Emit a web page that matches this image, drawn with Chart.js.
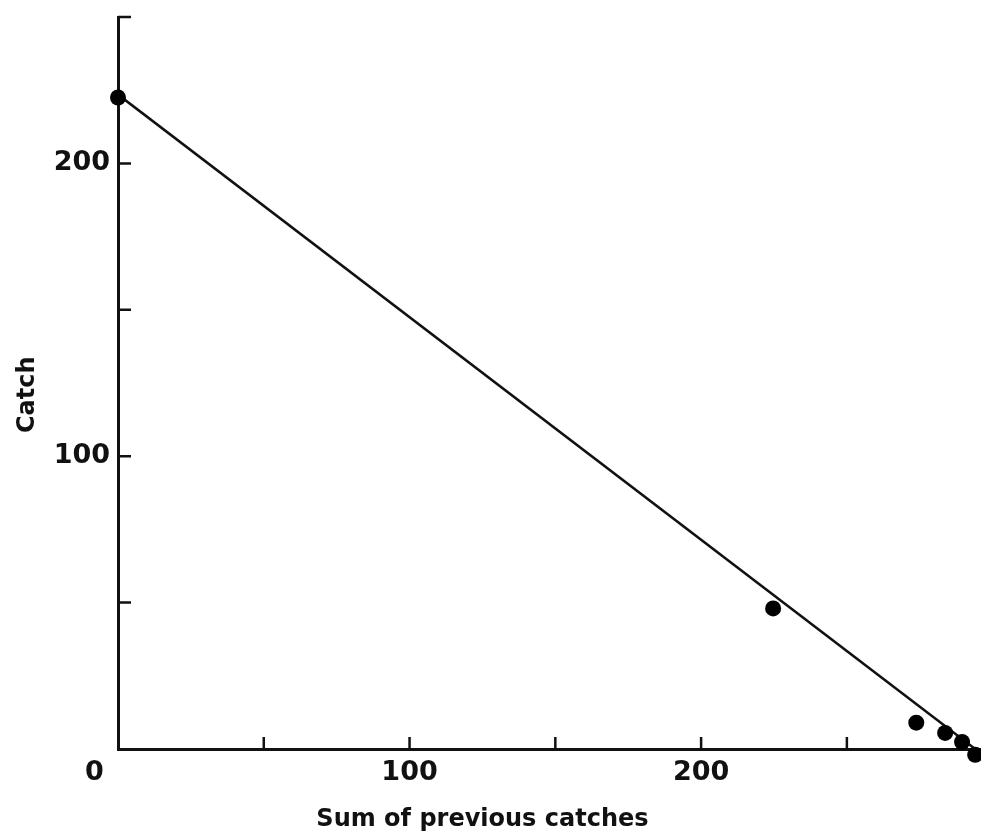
<!DOCTYPE html>
<html>
<head>
<meta charset="utf-8">
<script src="https://cdn.jsdelivr.net/npm/chart.js@4"></script>
<style>
    html, body { margin: 0; padding: 0; background: #fff; overflow: hidden; }
    #wrap { width: 981px; height: 839px; position: relative; }
</style>
</head>
<body>
<div id="wrap"><canvas id="catchChart"></canvas></div>
<script>
// valores
const sumPrevious = [0, 224.7, 273.8, 283.7, 289.5, 294];
const catches = [222.5, 48, 9, 5.5, 2.4, -2];
const fitX = [0, 294];
const fitY = [223.5, 0];

const xTickValues = [50, 100, 150, 200, 250];
const yTickValues = [50, 100, 150, 200, 250];
const xTickLabels = { 0: '0     ', 100: '100', 200: '200' };
const yTickLabels = { 100: '100', 200: '200' };

const xTitle = 'Sum of previous catches';
const yTitle = 'Catch';

const ink = '#111';
const fontFam = '"DejaVu Sans", sans-serif';

// ticks hacia dentro + titulos de ejes
const inwardTicks = {
    id: 'inwardTicks',
    afterDraw(chart) {
        const { ctx, chartArea, scales: { x, y } } = chart;
        ctx.save();
        ctx.strokeStyle = ink;
        ctx.lineWidth = 2.5;
        ctx.beginPath();
        xTickValues.forEach(v => {
            const px = x.getPixelForValue(v);
            ctx.moveTo(px, chartArea.bottom);
            ctx.lineTo(px, chartArea.bottom - 12);
        });
        yTickValues.forEach(v => {
            const py = y.getPixelForValue(v);
            ctx.moveTo(chartArea.left, py);
            ctx.lineTo(chartArea.left + 13, py);
        });
        ctx.stroke();

        ctx.fillStyle = ink;
        ctx.font = `bold 24px ${fontFam}`;
        ctx.textAlign = 'center';
        ctx.textBaseline = 'middle';
        ctx.fillText(xTitle, x.getPixelForValue(125), chart.height - 19);

        ctx.translate(28, y.getPixelForValue(121));
        ctx.rotate(-Math.PI / 2);
        ctx.fillText(yTitle, 0, 0);
        ctx.restore();
    }
};

const points = sumPrevious.map((v, i) => ({ x: v, y: catches[i] }));
const fitLine = fitX.map((v, i) => ({ x: v, y: fitY[i] }));

new Chart(document.getElementById('catchChart'), {
    type: 'scatter',
    data: {
        datasets: [
            {
                data: points,
                pointRadius: 8,
                pointHoverRadius: 8,
                backgroundColor: '#000',
                borderWidth: 0,
                clip: false,
                order: 0
            },
            {
                type: 'line',
                data: fitLine,
                borderColor: ink,
                borderWidth: 2.5,
                pointRadius: 0,
                fill: false,
                tension: 0,
                order: 1
            }
        ]
    },
    options: {
        responsive: true,
        maintainAspectRatio: false,
        animation: false,
        layout: { autoPadding: false, padding: { top: 17, right: 0, left: 0, bottom: 0 } },
        plugins: { legend: { display: false }, tooltip: { enabled: false } },
        scales: {
            x: {
                type: 'linear',
                min: 0,
                max: 296,
                grid: { display: false, drawTicks: false },
                border: { display: true, color: ink, width: 3 },
                ticks: {
                    stepSize: 50,
                    autoSkip: false,
                    maxRotation: 0,
                    padding: 8,
                    color: ink,
                    font: { family: fontFam, size: 27, weight: 'bold' },
                    callback: (v) => xTickLabels[v] || ''
                },
                afterFit: (s) => {
                    s.height = 90;
                    s.paddingLeft = 0;
                    s.paddingRight = 0;
                }
            },
            y: {
                type: 'linear',
                min: 0,
                max: 250,
                grid: { display: false, drawTicks: false },
                border: { display: true, color: ink, width: 3 },
                ticks: {
                    stepSize: 50,
                    autoSkip: false,
                    padding: 8,
                    color: ink,
                    font: { family: fontFam, size: 27, weight: 'bold' },
                    callback: (v) => yTickLabels[v] || ''
                },
                afterFit: (s) => {
                    s.width = 118;
                    s.paddingTop = 0;
                    s.paddingBottom = 0;
                }
            }
        }
    },
    plugins: [inwardTicks]
});
</script>
</body>
</html>
